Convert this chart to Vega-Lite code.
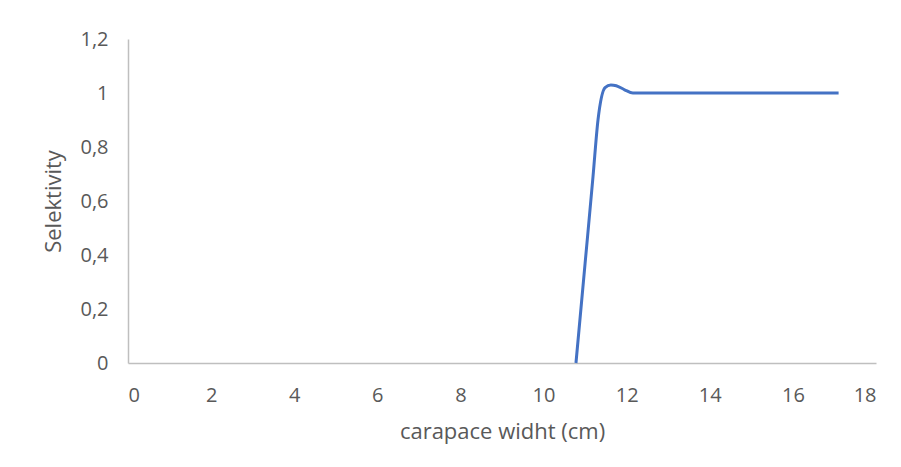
{
  "$schema": "https://vega.github.io/schema/vega-lite/v6.json",
  "autosize": {"type": "none"},
  "width": 748,
  "height": 324,
  "padding": {"left": 128, "top": 39, "right": 25, "bottom": 104},
  "background": "white",
  "data": {"values": [
    {"x": 10.78, "y": 0},
    {"x": 11.0, "y": 0.37},
    {"x": 11.19, "y": 0.69},
    {"x": 11.31, "y": 0.9},
    {"x": 11.48, "y": 1.02},
    {"x": 11.62, "y": 1.03},
    {"x": 11.75, "y": 1.027},
    {"x": 11.95, "y": 1.012},
    {"x": 12.15, "y": 1.0},
    {"x": 17.1, "y": 1.0}
  ]},
  "mark": {"type": "line", "color": "#4472C4", "strokeWidth": 3, "interpolate": "monotone"},
  "encoding": {
    "x": {"field": "x", "type": "quantitative",
      "scale": {"domain": [0, 18], "nice": false, "zero": false},
      "axis": {"values": [0, 2, 4, 6, 8, 10, 12, 14, 16, 18], "title": "carapace widht (cm)", "ticks": false, "grid": false, "labelPadding": 22, "titlePadding": 16}},
    "y": {"field": "y", "type": "quantitative",
      "scale": {"domain": [0, 1.2], "nice": false},
      "axis": {"values": [0, 0.2, 0.4, 0.6, 0.8, 1, 1.2], "title": "Selektivity", "ticks": false, "grid": false, "labelPadding": 20, "titlePadding": 14,
        "labelExpr": "replace(format(datum.value, '.1~f'), '.', ',')"}}
  },
  "config": {
    "view": {"stroke": null},
    "axis": {
      "domainColor": "#BFBFBF",
      "domainWidth": 1.5,
      "labelFont": "Open Sans",
      "labelFontSize": 20,
      "labelColor": "#595959",
      "titleFont": "Open Sans",
      "titleFontSize": 22,
      "titleFontWeight": "normal",
      "titleColor": "#595959"
    }
  }
}
